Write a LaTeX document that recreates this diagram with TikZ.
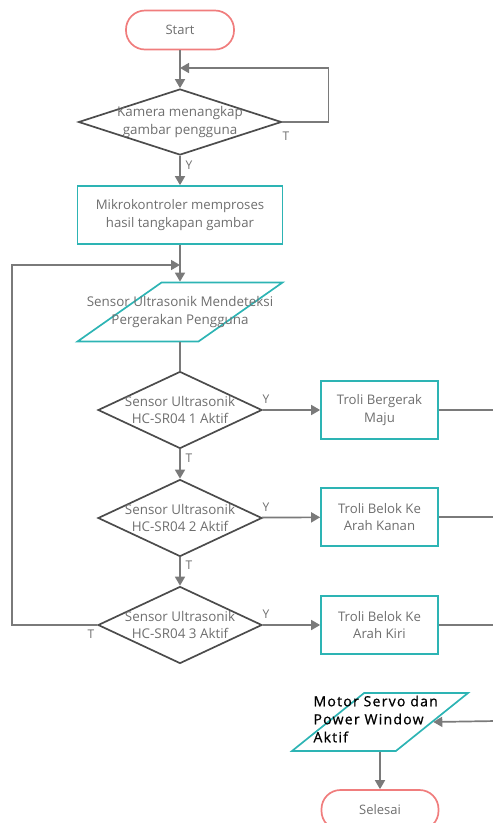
\documentclass[tikz,border=0pt]{standalone}
\usepackage{fontspec}
\setmainfont{Open Sans}
\newfontfamily\motorfont[LetterSpace=9, FakeBold=0.8]{Open Sans}
\usepackage{tikz}
\usetikzlibrary{shapes.geometric, arrows.meta, positioning}
\definecolor{termcolor}{RGB}{240, 125, 125}
\definecolor{boxcolor}{RGB}{45, 180, 180}
\definecolor{linecolor}{RGB}{122, 122, 122}
\definecolor{textcolor}{RGB}{110, 110, 110}

\begin{document}
\begin{tikzpicture}[x=1pt, y=-1pt,
    termbox/.style={rectangle, rounded corners=19pt, draw=termcolor, line width=1.7pt,
                    minimum width=108pt, minimum height=39pt, text=textcolor,
                    font=\fontsize{13}{17}\selectfont},
    procbox/.style={rectangle, draw=boxcolor, line width=1.7pt, minimum height=58pt,
                    text=textcolor, align=center, font=\fontsize{13.2}{17.5}\selectfont},
    decbox/.style={diamond, draw=black!70, line width=1.7pt, inner sep=0pt},
    iobox/.style={trapezium, trapezium left angle=72, trapezium right angle=108,
                  trapezium stretches=true, draw=boxcolor, line width=1.7pt, inner sep=1pt},
    boxtext/.style={text=textcolor, align=center, font=\fontsize{13.4}{17.5}\selectfont},
    answer/.style={text=textcolor, font=\fontsize{12}{14}\selectfont},
    flow/.style={draw=linecolor, line width=1.7pt, -{Triangle[length=9pt, width=10pt]}},
    plain/.style={draw=linecolor, line width=1.7pt}
]
\useasboundingbox (0,0) rectangle (493,823);
\clip (0,0) rectangle (493,823);

% Start
\node[termbox] (start) at (180,30) {Start};

% Camera check
\node[decbox, minimum width=203pt, minimum height=66pt] (cam) at (180,122) {};
\node[boxtext] (camtext) at (cam.center) {Kamera menangkap\\gambar pengguna};
\coordinate (camloop) at (180,68);

% Microcontroller
\node[procbox, minimum width=205pt] (mikro) at (180,215) {Mikrokontroler memproses\\hasil tangkapan gambar};

% Sensor input
\node[iobox, minimum width=205pt, minimum height=59pt] (sensor) at (180,312) {\strut};
\node[boxtext] (sensortext) at (sensor.center) {Sensor Ultrasonik Mendeteksi\\Pergerakan Pengguna};
\coordinate (sensorloop) at (180,265);

% Sensor decisions
\node[decbox, minimum width=164pt, minimum height=77pt] (us1) at (180,410) {};
\node[boxtext] (us1text) at (us1.center) {Sensor Ultrasonik\\HC-SR04 1 Aktif};
\node[decbox, minimum width=164pt, minimum height=77pt] (us2) at (180,518) {};
\node[boxtext] (us2text) at (us2.center) {Sensor Ultrasonik\\HC-SR04 2 Aktif};
\node[decbox, minimum width=164pt, minimum height=77pt] (us3) at (180,625) {};
\node[boxtext] (us3text) at (us3.center) {Sensor Ultrasonik\\HC-SR04 3 Aktif};

% Trolley actions
\node[procbox, minimum width=117pt] (troli1) at (379.5,410) {Troli Bergerak\\Maju};
\node[procbox, minimum width=117pt] (troli2) at (379.5,517) {Troli Belok Ke\\Arah Kanan};
\node[procbox, minimum width=117pt] (troli3) at (379.5,625) {Troli Belok Ke\\Arah Kiri};
\coordinate (edge1) at (496,410);
\coordinate (edge2) at (496,517);
\coordinate (edge3) at (496,625);
\coordinate (edge4) at (496,721);

% Output and end
\node[iobox, minimum width=176pt, minimum height=58pt] (motor) at (380,722) {\strut};
\node[anchor=west, align=left, text=black, font=\motorfont\fontsize{14}{18}\selectfont] (motortext) at (310,719) {Motor Servo dan\\Power Window\\Aktif};
\node[termbox, minimum width=117pt, minimum height=40pt] (selesai) at (380,810) {Selesai};

% Connectors
\draw[flow] (start) -- (cam);
\draw[flow] (cam.east) -- ++(46,0) |- (camloop);
\draw[flow] (cam) -- (mikro);
\draw[flow] (mikro) -- (sensor);
\draw[plain] (sensor) -- (us1);
\draw[flow] (us1) -- (us2);
\draw[flow] (us2) -- (us3);
\draw[flow] (us3.west) -- ++(-85,0) |- (sensorloop);
\draw[flow] (us1) -- (troli1);
\draw[flow] (us2) -- (troli2);
\draw[flow] (us3) -- (troli3);
\draw[plain] (troli1) -- (edge1);
\draw[plain] (troli2) -- (edge2);
\draw[plain] (troli3) -- (edge3);
\draw[flow] (edge4) -- (motor.east);
\draw[flow] (motor) -- (selesai);

% Answers
\node[answer] (camno) at (286,136) {T};
\node[answer] (camyes) at (189,165) {Y};
\node[answer] (us1yes) at (266,399) {Y};
\node[answer] (us1no) at (189,458) {T};
\node[answer] (us2yes) at (266,507) {Y};
\node[answer] (us2no) at (189,565) {T};
\node[answer] (us3yes) at (266,614) {Y};
\node[answer] (us3no) at (91,634) {T};

\end{tikzpicture}
\end{document}
